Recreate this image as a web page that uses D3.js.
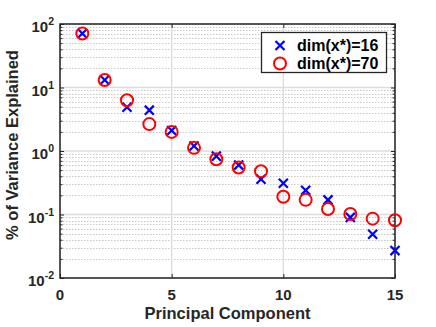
<!DOCTYPE html>
<html>
<head>
<meta charset="utf-8">
<script src="https://cdn.jsdelivr.net/npm/d3@7"></script>
<style>
  html, body { margin: 0; padding: 0; background: #fff; }
  svg { display: block; font-family: "Liberation Sans", Arial, Helvetica, sans-serif; font-weight: bold; }
</style>
</head>
<body>
<svg id="chart" width="436" height="327"></svg>
<script>
// ---- data ----
const components = [1, 2, 3, 4, 5, 6, 7, 8, 9, 10, 11, 12, 13, 14, 15];
const dim16 = [71, 13.1, 4.9, 4.4, 2.1, 1.2, 0.83, 0.60, 0.36, 0.31, 0.24, 0.17, 0.090, 0.049, 0.027];
const dim70 = [71, 13.1, 6.3, 2.65, 2.0, 1.12, 0.74, 0.55, 0.48, 0.19, 0.17, 0.122, 0.102, 0.086, 0.081];
const seriesNames = ["dim(x*)=16", "dim(x*)=70"];
const xTicks = [0, 5, 10, 15];
const yTickExps = [-2, -1, 0, 1, 2];
const xLabel = "Principal Component";
const yLabel = "% of Variance Explained";

// ---- layout ----
const L = 60, R = 395, T = 24, B = 278;
const axisColor = "#262626";
const svg = d3.select("#chart");

const x = d3.scaleLinear().domain([0, 15]).range([L, R]);
const y = d3.scaleLog().domain([0.01, 100]).range([B, T]);

// minor log values
const minorVals = [];
for (let e = -2; e < 2; e++) for (let m = 2; m <= 9; m++) minorVals.push(m * Math.pow(10, e));
const majorVals = yTickExps.map(e => Math.pow(10, e));

// grid
const grid = svg.append("g");
grid.selectAll(".minor").data(minorVals).enter().append("line")
  .attr("x1", L).attr("x2", R)
  .attr("y1", d => Math.round(y(d)) + 0.5).attr("y2", d => Math.round(y(d)) + 0.5)
  .attr("stroke", "#c8c8c8").attr("stroke-width", 1).attr("stroke-dasharray", "1.5,1.5");
grid.selectAll(".majy").data(majorVals).enter().append("line")
  .attr("x1", L).attr("x2", R)
  .attr("y1", d => y(d)).attr("y2", d => y(d))
  .attr("stroke", "#dcdcdc").attr("stroke-width", 1.3);
grid.selectAll(".majx").data(xTicks).enter().append("line")
  .attr("x1", d => x(d)).attr("x2", d => x(d))
  .attr("y1", T).attr("y2", B)
  .attr("stroke", "#dcdcdc").attr("stroke-width", 1.3);

// axes with d3 axis generators (ticks inward, no labels), plus right/top copies
const tickLen = 4, minorLen = 2.5;
function styleAxis(g) {
  g.select(".domain").remove();
  g.selectAll("line").attr("stroke", axisColor).attr("stroke-width", 1);
  g.selectAll("text").remove();
}
svg.append("g").attr("transform", `translate(0,${B})`)
  .call(d3.axisTop(x).tickValues(xTicks).tickSize(tickLen)).call(styleAxis);
svg.append("g").attr("transform", `translate(0,${T})`)
  .call(d3.axisBottom(x).tickValues(xTicks).tickSize(tickLen)).call(styleAxis);
svg.append("g").attr("transform", `translate(${L},0)`)
  .call(d3.axisRight(y).tickValues(majorVals).tickSize(tickLen)).call(styleAxis);
svg.append("g").attr("transform", `translate(${R},0)`)
  .call(d3.axisLeft(y).tickValues(majorVals).tickSize(tickLen)).call(styleAxis);
svg.append("g").attr("transform", `translate(${L},0)`)
  .call(d3.axisRight(y).tickValues(minorVals).tickSize(minorLen)).call(styleAxis);
svg.append("g").attr("transform", `translate(${R},0)`)
  .call(d3.axisLeft(y).tickValues(minorVals).tickSize(minorLen)).call(styleAxis);

// box
svg.append("rect").attr("x", L).attr("y", T).attr("width", R - L).attr("height", B - T)
  .attr("fill", "none").attr("stroke", axisColor).attr("stroke-width", 1.5);

// tick labels
svg.append("g").selectAll("text").data(xTicks).enter().append("text")
  .attr("x", d => x(d)).attr("y", 299.5)
  .attr("text-anchor", "middle").attr("font-size", 15).attr("fill", axisColor)
  .text(d => d);

const yl = svg.append("g").selectAll("text").data(yTickExps).enter().append("text")
  .attr("x", 54).attr("y", d => y(Math.pow(10, d)) + 8)
  .attr("text-anchor", "end").attr("font-size", 15).attr("fill", axisColor);
yl.append("tspan").text("10");
yl.append("tspan").attr("dy", -7).attr("font-size", 10.5).text(d => d);

// axis labels
svg.append("text").attr("x", (L + R) / 2).attr("y", 319)
  .attr("text-anchor", "middle").attr("font-size", 16.5).attr("fill", axisColor).text(xLabel);
svg.append("text").attr("transform", `translate(18,145) rotate(-90)`)
  .attr("text-anchor", "middle").attr("font-size", 16.5).attr("fill", axisColor).text(yLabel);

// markers
const cross = d3.symbol().type(d3.symbolX).size(55);
svg.append("g").selectAll("path").data(components).enter().append("path")
  .attr("d", cross)
  .attr("transform", (d, i) => `translate(${x(d)},${y(dim16[i])})`)
  .attr("fill", "none").attr("stroke", "#0000ff").attr("stroke-width", 2.2);
svg.append("g").selectAll("circle").data(components).enter().append("circle")
  .attr("cx", d => x(d)).attr("cy", (d, i) => y(dim70[i])).attr("r", 6)
  .attr("fill", "none").attr("stroke", "#ff0000").attr("stroke-width", 2);

// legend
const lg = svg.append("g");
lg.append("rect").attr("x", 261.5).attr("y", 32.5).attr("width", 125).attr("height", 40)
  .attr("fill", "#fff").attr("stroke", axisColor).attr("stroke-width", 1.3);
lg.append("path").attr("d", cross).attr("transform", "translate(280,45.5)")
  .attr("fill", "none").attr("stroke", "#0000ff").attr("stroke-width", 2.2);
lg.append("circle").attr("cx", 280).attr("cy", 63.5).attr("r", 6)
  .attr("fill", "none").attr("stroke", "#ff0000").attr("stroke-width", 2);
lg.selectAll("text").data(seriesNames).enter().append("text")
  .attr("x", 297).attr("y", (d, i) => 51 + i * 18)
  .attr("font-size", 16).attr("fill", "#000").text(d => d);
</script>
</body>
</html>
